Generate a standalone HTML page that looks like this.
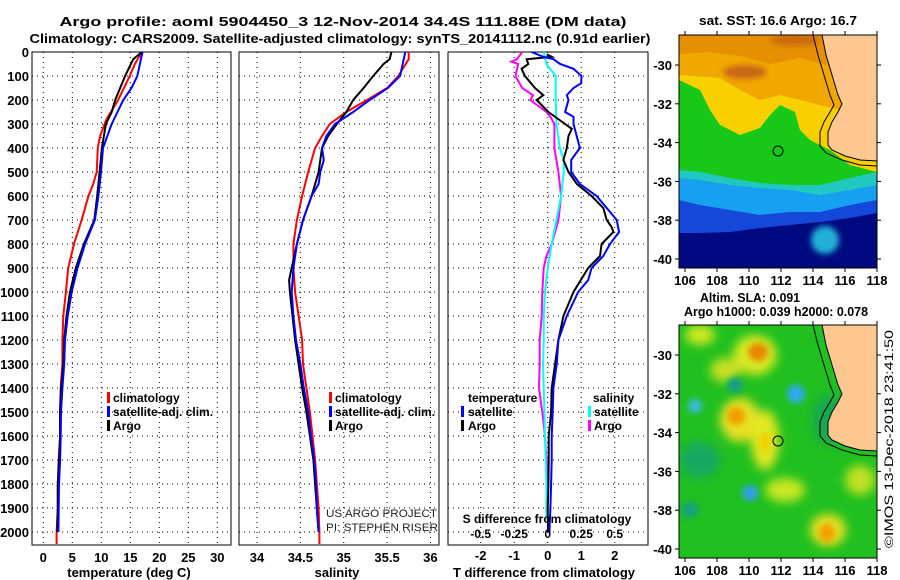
<!DOCTYPE html>
<html><head><meta charset="utf-8">
<style>
body{margin:0;background:#fff;}
svg{display:block;font-family:"Liberation Sans",Arial,sans-serif;}
.b{font-weight:bold;font-size:13px;}
.lg{font-weight:bold;font-size:12px;}
.t{font-size:13px;font-weight:bold;}
</style></head>
<body>
<svg id="chart" width="900" height="580" viewBox="0 0 900 580" xmlns="http://www.w3.org/2000/svg">
<defs>
<filter id="blur" x="-50%" y="-50%" width="200%" height="200%"><feGaussianBlur stdDeviation="5"/></filter>
<filter id="blur2" x="-50%" y="-50%" width="200%" height="200%"><feGaussianBlur stdDeviation="3"/></filter>
<clipPath id="m1clip"><rect x="679" y="35" width="198" height="233"/></clipPath>
<clipPath id="m2clip"><rect x="679" y="325" width="198" height="233"/></clipPath>
</defs>
<rect width="900" height="580" fill="#fff"/>
<text class="t" x="343" y="26" text-anchor="middle" textLength="567" lengthAdjust="spacingAndGlyphs">Argo profile: aoml 5904450_3 12-Nov-2014 34.4S 111.88E (DM data)</text>
<text class="t" x="340" y="43" text-anchor="middle" textLength="621" lengthAdjust="spacingAndGlyphs">Climatology: CARS2009. Satellite-adjusted climatology: synTS_20141112.nc (0.91d earlier)</text>

<g id="p1"></g>
<g id="p2"></g>
<g id="p3"></g>

<!-- Map 1: SST -->
<g>
<text class="b" x="778" y="25" text-anchor="middle" textLength="158" lengthAdjust="spacingAndGlyphs">sat. SST: 16.6 Argo: 16.7</text>
<g clip-path="url(#m1clip)">
<rect x="679" y="35" width="198" height="233" fill="#000a80"/>
<polygon fill="#1448d8" points="679,35 877,35 877,213 850,218 820,222 790,225 760,228 730,232 700,233 679,233"/>
<polygon fill="#18a0f0" points="679,35 877,35 877,200 850,205 820,212 790,212 760,215 730,210 700,205 679,200"/>
<ellipse cx="825" cy="240" rx="14" ry="14" fill="#20b0d8" filter="url(#blur2)"/>
<polygon fill="#20c8c0" points="679,35 877,35 877,185 850,190 820,195 790,190 760,188 730,185 700,180 679,178"/>
<polygon fill="#18c818" points="679,35 877,35 877,172 850,178 820,185 790,185 760,183 730,178 700,172 679,170"/>
<polygon fill="#f8d000" points="679,35 877,35 877,172 850,165 830,150 810,140 800,130 795,112 780,105 770,115 760,128 740,135 720,125 710,110 700,90 679,80"/>
<polygon fill="#f0a800" points="679,35 877,35 877,100 840,110 820,105 800,100 780,95 760,100 740,90 720,78 679,75"/>
<polygon fill="#e49000" points="679,35 877,35 877,62 830,66 800,58 770,64 740,56 710,52 679,54"/>
<ellipse cx="745" cy="72" rx="22" ry="7" fill="#c86818" filter="url(#blur2)"/>
<ellipse cx="795" cy="40" rx="25" ry="6" fill="#cc6a10" filter="url(#blur2)"/>
<polygon fill="#fcc890" points="822,35 826,55 832,75 838,95 842,104 838,112 832,122 828,132 828,145 832,150 845,156 860,160 877,161 877,35"/>
<polyline fill="none" stroke="#000" stroke-width="1" points="813,35 818,55 824,75 830,95 834,105 830,112 824,122 820,132 820,146 826,153 842,160 860,165 877,166"/>
<polyline fill="none" stroke="#000" stroke-width="1" points="822,35 826,55 832,75 838,95 842,104 838,112 832,122 828,132 828,145 832,150 845,156 860,160 877,161"/>
</g>
<circle cx="778" cy="151" r="5" fill="none" stroke="#000" stroke-width="1"/>
<rect x="679" y="35" width="198" height="233" fill="none" stroke="#000" stroke-width="1"/>
<g id="m1ticks"></g>
</g>

<!-- Map 2: SLA -->
<g>
<text class="b" x="750" y="302" text-anchor="middle" textLength="100" lengthAdjust="spacingAndGlyphs">Altim. SLA: 0.091</text>
<text class="b" x="776" y="316" text-anchor="middle" textLength="184" lengthAdjust="spacingAndGlyphs">Argo h1000: 0.039 h2000: 0.078</text>
<g clip-path="url(#m2clip)">
<rect x="679" y="325" width="198" height="233" fill="#20c020"/>
<g filter="url(#blur)">
<ellipse cx="755" cy="355" rx="22" ry="20" fill="#d8e820"/>
<ellipse cx="725" cy="370" rx="15" ry="12" fill="#c8e020"/>
<ellipse cx="740" cy="420" rx="20" ry="22" fill="#e8e020"/>
<ellipse cx="765" cy="440" rx="14" ry="30" fill="#e0e820"/>
<ellipse cx="785" cy="490" rx="20" ry="12" fill="#c8e820"/>
<ellipse cx="828" cy="530" rx="18" ry="16" fill="#e8e020"/>
<ellipse cx="700" cy="335" rx="15" ry="10" fill="#d0e820"/>
<ellipse cx="860" cy="480" rx="15" ry="15" fill="#c0e020"/>
<ellipse cx="700" cy="460" rx="20" ry="18" fill="#18a860"/>
<ellipse cx="830" cy="420" rx="18" ry="25" fill="#18a850"/>
</g>
<g filter="url(#blur2)">
<ellipse cx="758" cy="352" rx="10" ry="9" fill="#e88800"/>
<ellipse cx="736" cy="416" rx="9" ry="9" fill="#f0a000"/>
<ellipse cx="827" cy="533" rx="8" ry="9" fill="#f0a000"/>
<ellipse cx="765" cy="442" rx="6" ry="10" fill="#f0d000"/>
<circle cx="796" cy="394" r="9" fill="#30a8f0"/>
<circle cx="695" cy="406" r="7" fill="#40b8e0"/>
<circle cx="750" cy="493" r="8" fill="#30a0e8"/>
<circle cx="735" cy="385" r="8" fill="#18a080"/>
<circle cx="690" cy="510" r="8" fill="#18a080"/>
</g>
<polygon fill="#fcc890" points="822,325 826,345 832,365 838,385 842,394 838,402 832,412 828,422 828,435 832,440 845,446 860,450 877,451 877,325"/>
<polyline fill="none" stroke="#000" stroke-width="1" points="813,325 818,345 824,365 830,385 834,395 830,402 824,412 820,422 820,436 826,443 842,450 860,455 877,456"/>
<polyline fill="none" stroke="#000" stroke-width="1" points="822,325 826,345 832,365 838,385 842,394 838,402 832,412 828,422 828,435 832,440 845,446 860,450 877,451"/>
</g>
<circle cx="778" cy="441" r="5" fill="none" stroke="#000" stroke-width="1"/>
<rect x="679" y="325" width="198" height="233" fill="none" stroke="#000" stroke-width="1"/>
<g id="m2ticks"></g>
</g>
<text x="893" y="548" font-size="12" transform="rotate(-90 893 548)" textLength="218" lengthAdjust="spacingAndGlyphs">©IMOS 13-Dec-2018 23:41:50</text>
</svg>
<script>
// ---------- data ----------
const depthTicks = [0,100,200,300,400,500,600,700,800,900,1000,1100,1200,1300,1400,1500,1600,1700,1800,1900,2000];
const tempTicks = [0,5,10,15,20,25,30];
const salTicks = [34,34.5,35,35.5,36];
const salTickLabels = ["34","34.5","35","35.5","36"];
const tdiffTicks = [-2,-1,0,1,2];
const sdiffTicks = [-0.5,-0.25,0,0.25,0.5];
const sdiffTickLabels = ["-0.5","-0.25","0","0.25","0.5"];

const tClimDepth = [0,50,100,200,280,350,400,500,550,600,700,800,900,1000,1100,1200,1300,1400,1500,1600,1700,1800,1900,2000,2050];
const tClim = [17.0,15.8,14.9,12.9,10.9,9.8,9.4,9.2,8.6,7.8,6.6,5.3,4.3,3.9,3.45,3.3,3.3,3.0,2.9,2.9,2.65,2.5,2.5,2.3,2.3];
const tSatDepth = [0,100,150,200,300,400,500,600,700,800,900,1000,1100,1200,1300,1400,1500,1600,1700,1800,1900,2000];
const tSat = [17.1,16.2,15.2,13.8,11.8,10.3,9.95,9.5,8.9,7.2,5.9,4.9,4.2,3.75,3.6,3.3,3.05,3.0,2.9,2.7,2.65,2.6];
const tArgoDepth = [0,30,100,200,250,300,400,500,600,700,800,900,1000,1100,1200,1300,1400,1500,1600,1700,1800,1900,2000];
const tArgo = [17.0,15.5,14.1,12.4,11.8,10.8,10.1,9.7,9.3,8.8,7.0,5.6,4.6,4.0,3.6,3.45,3.05,2.9,2.9,2.7,2.5,2.5,2.4];

const sClimDepth = [0,30,100,150,200,250,300,350,400,500,600,700,800,900,1000,1100,1200,1300,1400,1500,1600,1700,1800,1900,2000,2050];
const sClim = [35.75,35.75,35.63,35.50,35.27,35.03,34.84,34.75,34.67,34.59,34.52,34.46,34.42,34.42,34.44,34.48,34.52,34.53,34.57,34.61,34.64,34.67,34.69,34.71,34.72,34.72];
const sSatDepth = [0,100,150,200,250,300,350,400,450,500,550,600,700,800,900,1000,1100,1200,1300,1400,1500,1600,1700,1800,1900,2000];
const sSat = [35.71,35.65,35.51,35.30,35.11,34.90,34.80,34.75,34.77,34.73,34.71,34.63,34.53,34.46,34.42,34.40,34.42,34.45,34.50,34.54,34.59,34.62,34.66,34.68,34.69,34.71];
const sArgoDepth = [0,30,50,100,150,200,250,300,350,400,500,550,600,700,800,900,950,1000,1100,1200,1300,1400,1500,1600,1700,1800,1900,2000];
const sArgo = [35.55,35.53,35.46,35.34,35.23,35.11,35.03,34.92,34.82,34.75,34.71,34.67,34.63,34.53,34.46,34.40,34.37,34.38,34.41,34.44,34.48,34.52,34.57,34.61,34.65,34.67,34.69,34.71];

const dtArgoDepth = [10,20,30,50,70,100,150,180,200,250,300,320,350,400,450,500,550,600,650,700,730,750,800,850,900,1000,1100,1200,1300,1400,1500,1600,1700,1800,1900,2000];
const dtArgo = [-0.03,0.12,-0.63,-0.58,-0.78,-0.68,-0.38,-0.13,-0.33,0.02,0.52,0.72,0.62,0.57,0.47,0.62,0.87,1.31,1.66,1.76,1.91,1.96,1.61,1.56,1.21,0.77,0.47,0.32,0.22,0.12,0.10,0.03,0.03,0.02,0.0,0.01];
const dtSatDepth = [0,20,30,50,70,100,130,150,180,200,250,270,300,400,450,500,550,600,650,700,750,800,850,900,950,1000,1100,1200,1300,1400,1500,1600,1700,1800,1900,2000];
const dtSat = [-0.48,-0.13,0.17,0.37,0.77,1.01,1.0,0.77,0.57,0.62,0.52,0.77,0.77,0.96,0.70,0.70,0.96,1.46,1.76,2.06,2.13,1.86,1.66,1.31,1.21,0.91,0.57,0.32,0.27,0.17,0.15,0.12,0.12,0.10,0.08,0.05];
const dsArgoDepth = [0,30,40,50,100,150,180,200,250,270,300,400,500,600,700,800,850,900,1000,1100,1200,1300,1400,1500,1600,1700,1800];
const dsArgo = [-0.19,-0.23,-0.27,-0.22,-0.24,-0.19,-0.11,-0.13,-0.01,0.02,0.05,0.05,0.08,0.10,0.08,0.03,-0.01,-0.03,-0.04,-0.045,-0.06,-0.06,-0.065,-0.04,-0.02,-0.01,0.0];
const dsSatDepth = [0,50,100,200,300,400,450,500,600,700,800,900,1000,1100,1200,1300,1400,1500,1600,1700,1800,1900,1940];
const dsSat = [-0.03,-0.01,0.06,0.06,0.065,0.09,0.12,0.12,0.10,0.065,0.03,0.0,-0.02,-0.03,-0.03,-0.035,-0.03,-0.025,-0.02,-0.015,-0.01,-0.01,-0.01];

const lonTicks = [106,108,110,112,114,116,118];
const latTicks = [-30,-32,-34,-36,-38,-40];

// ---------- scales ----------
const NS = "http://www.w3.org/2000/svg";
const yD = d => 52 + d * 0.24;
const xT = t => 43.3 + t * 5.8;
const xS = s => 257 + (s - 34) * 86.7;
const xDT = v => 547.7 + v * 33.5;
const xDS = v => 547.7 + v * 134;
const lonX = lon => 685 + (lon - 106) * 16;
const latY1 = lat => 65 + (-30 - lat) * 19.4;
const latY2 = lat => 355 + (-30 - lat) * 19.4;

function mk(tag, attrs, parent, txt) {
  const el = document.createElementNS(NS, tag);
  for (const k in attrs) el.setAttribute(k, attrs[k]);
  if (txt !== undefined) el.textContent = txt;
  parent.appendChild(el);
  return el;
}

function panel(gid, x0, x1, vgrid) {
  const g = document.getElementById(gid);
  depthTicks.forEach(d => {
    const l = mk('line', {x1:x0, x2:x1, y1:yD(d), y2:yD(d), stroke:'#000', 'stroke-width':1, 'stroke-dasharray':'1 4'}, g);
    
    
  });
  vgrid.forEach(x => {
    const l = mk('line', {x1:x, x2:x, y1:52, y2:545, stroke:'#000', 'stroke-width':1, 'stroke-dasharray':'1 4'}, g);
    
    
  });
  const r = mk('rect', {x:x0, y:52, width:x1-x0, height:493, fill:'none', stroke:'#000', 'stroke-width':1}, g);
  
  
  return g;
}

function line(g, depths, vals, sx, color, name) {
  const pts = depths.map((d, i) => sx(vals[i]).toFixed(1) + ',' + yD(d).toFixed(1)).join(' ');
  const p = mk('polyline', {points:pts, fill:'none', stroke:color, 'stroke-width':2}, g);
  
  
}

function txt(g, x, y, s, anchor, name, cls) {
  const t = mk('text', {x:x, y:y, 'text-anchor':anchor || 'start', class: cls === undefined ? 'b' : cls}, g, s);
  
  
  return t;
}

function legendBar(g, x, y, color) {
  const r = mk('rect', {x:x, y:y-11, width:3, height:11, fill:color}, g);
  
  
}

// Panel 1
const g1 = panel('p1', 32, 231, tempTicks.map(xT));
line(g1, tClimDepth, tClim, xT, '#ff0000', 'temperature-climatology-line');
line(g1, tArgoDepth, tArgo, xT, '#000000', 'temperature-argo-line');
line(g1, tSatDepth, tSat, xT, '#0000ff', 'temperature-satellite-line');
depthTicks.forEach(d => txt(g1, 29, yD(d) + 5, String(d), 'end', 'depth-tick-label'));
tempTicks.forEach(t => txt(g1, xT(t), 562, String(t), 'middle', 'temperature-tick-label'));
txt(g1, 129, 577, 'temperature (deg C)', 'middle', 'temperature-axis-title');
legendBar(g1, 107, 403, '#ff0000'); txt(g1, 113, 402, 'climatology', 'start', 'legend-climatology', 'lg');
legendBar(g1, 107, 417, '#0000ff'); txt(g1, 113, 416, 'satellite-adj. clim.', 'start', 'legend-satellite-adj', 'lg');
legendBar(g1, 107, 431, '#000000'); txt(g1, 113, 430, 'Argo', 'start', 'legend-argo', 'lg');

// Panel 2
const g2 = panel('p2', 239, 439, salTicks.map(xS));
line(g2, sClimDepth, sClim, xS, '#ff0000', 'salinity-climatology-line');
line(g2, sArgoDepth, sArgo, xS, '#000000', 'salinity-argo-line');
line(g2, sSatDepth, sSat, xS, '#0000ff', 'salinity-satellite-line');
salTicks.forEach((s, i) => txt(g2, xS(s), 562, salTickLabels[i], 'middle', 'salinity-tick-label'));
txt(g2, 337, 577, 'salinity', 'middle', 'salinity-axis-title');
legendBar(g2, 329, 403, '#ff0000'); txt(g2, 335, 402, 'climatology', 'start', 'legend-climatology', 'lg');
legendBar(g2, 329, 417, '#0000ff'); txt(g2, 335, 416, 'satellite-adj. clim.', 'start', 'legend-satellite-adj', 'lg');
legendBar(g2, 329, 431, '#000000'); txt(g2, 335, 430, 'Argo', 'start', 'legend-argo', 'lg');
const cr1 = txt(g2, 326, 517, 'US ARGO PROJECT', 'start', 'credit-project', '');
cr1.setAttribute('font-size', '11'); cr1.setAttribute('fill', '#222');
cr1.setAttribute('textLength', '111'); cr1.setAttribute('lengthAdjust', 'spacingAndGlyphs');
const cr2 = txt(g2, 326, 531, 'PI: STEPHEN RISER', 'start', 'credit-pi', '');
cr2.setAttribute('font-size', '11'); cr2.setAttribute('fill', '#222');
cr2.setAttribute('textLength', '112'); cr2.setAttribute('lengthAdjust', 'spacingAndGlyphs');

// Panel 3
const g3 = panel('p3', 448, 648, tdiffTicks.map(xDT));
line(g3, dsArgoDepth, dsArgo, xDS, '#ff00ff', 'salinity-diff-argo-line');
line(g3, dsSatDepth, dsSat, xDS, '#00ffff', 'salinity-diff-satellite-line');
line(g3, dtArgoDepth, dtArgo, xDT, '#000000', 'temperature-diff-argo-line');
line(g3, dtSatDepth, dtSat, xDT, '#0000ff', 'temperature-diff-satellite-line');
tdiffTicks.forEach(v => txt(g3, xDT(v), 560, String(v), 'middle', 'tdiff-tick-label'));
sdiffTicks.forEach((v, i) => txt(g3, xDS(v), 538, sdiffTickLabels[i], 'middle', 'sdiff-tick-label', 'lg'));
txt(g3, 547, 523, 'S difference from climatology', 'middle', 'sdiff-axis-title', 'lg');
txt(g3, 544, 577, 'T difference from climatology', 'middle', 'tdiff-axis-title');
txt(g3, 468, 402, 'temperature', 'start', 'legend-temperature-heading', 'lg');
legendBar(g3, 461, 417, '#0000ff'); txt(g3, 468, 416, 'satellite', 'start', 'legend-t-satellite', 'lg');
legendBar(g3, 461, 431, '#000000'); txt(g3, 468, 430, 'Argo', 'start', 'legend-t-argo', 'lg');
txt(g3, 593, 402, 'salinity', 'start', 'legend-salinity-heading', 'lg');
legendBar(g3, 588, 417, '#00ffff'); txt(g3, 594, 416, 'satellite', 'start', 'legend-s-satellite', 'lg');
legendBar(g3, 588, 431, '#ff00ff'); txt(g3, 594, 430, 'Argo', 'start', 'legend-s-argo', 'lg');

// Map ticks
function mapTicks(gid, top, bottom, latY) {
  const g = document.getElementById(gid);
  lonTicks.forEach(lon => {
    const x = lonX(lon);
    mk('line', {x1:x, x2:x, y1:top, y2:top-4, stroke:'#000'}, g);
    mk('line', {x1:x, x2:x, y1:bottom, y2:bottom+4, stroke:'#000'}, g);
    txt(g, x, bottom + 17, String(lon), 'middle', 'longitude-tick-label');
  });
  latTicks.forEach(lat => {
    const y = latY(lat);
    mk('line', {x1:679, x2:675, y1:y, y2:y, stroke:'#000'}, g);
    mk('line', {x1:877, x2:881, y1:y, y2:y, stroke:'#000'}, g);
    txt(g, 672, y + 5, String(lat), 'end', 'latitude-tick-label');
  });
}
mapTicks('m1ticks', 35, 268, latY1);
mapTicks('m2ticks', 325, 558, latY2);
</script>
</body></html>
